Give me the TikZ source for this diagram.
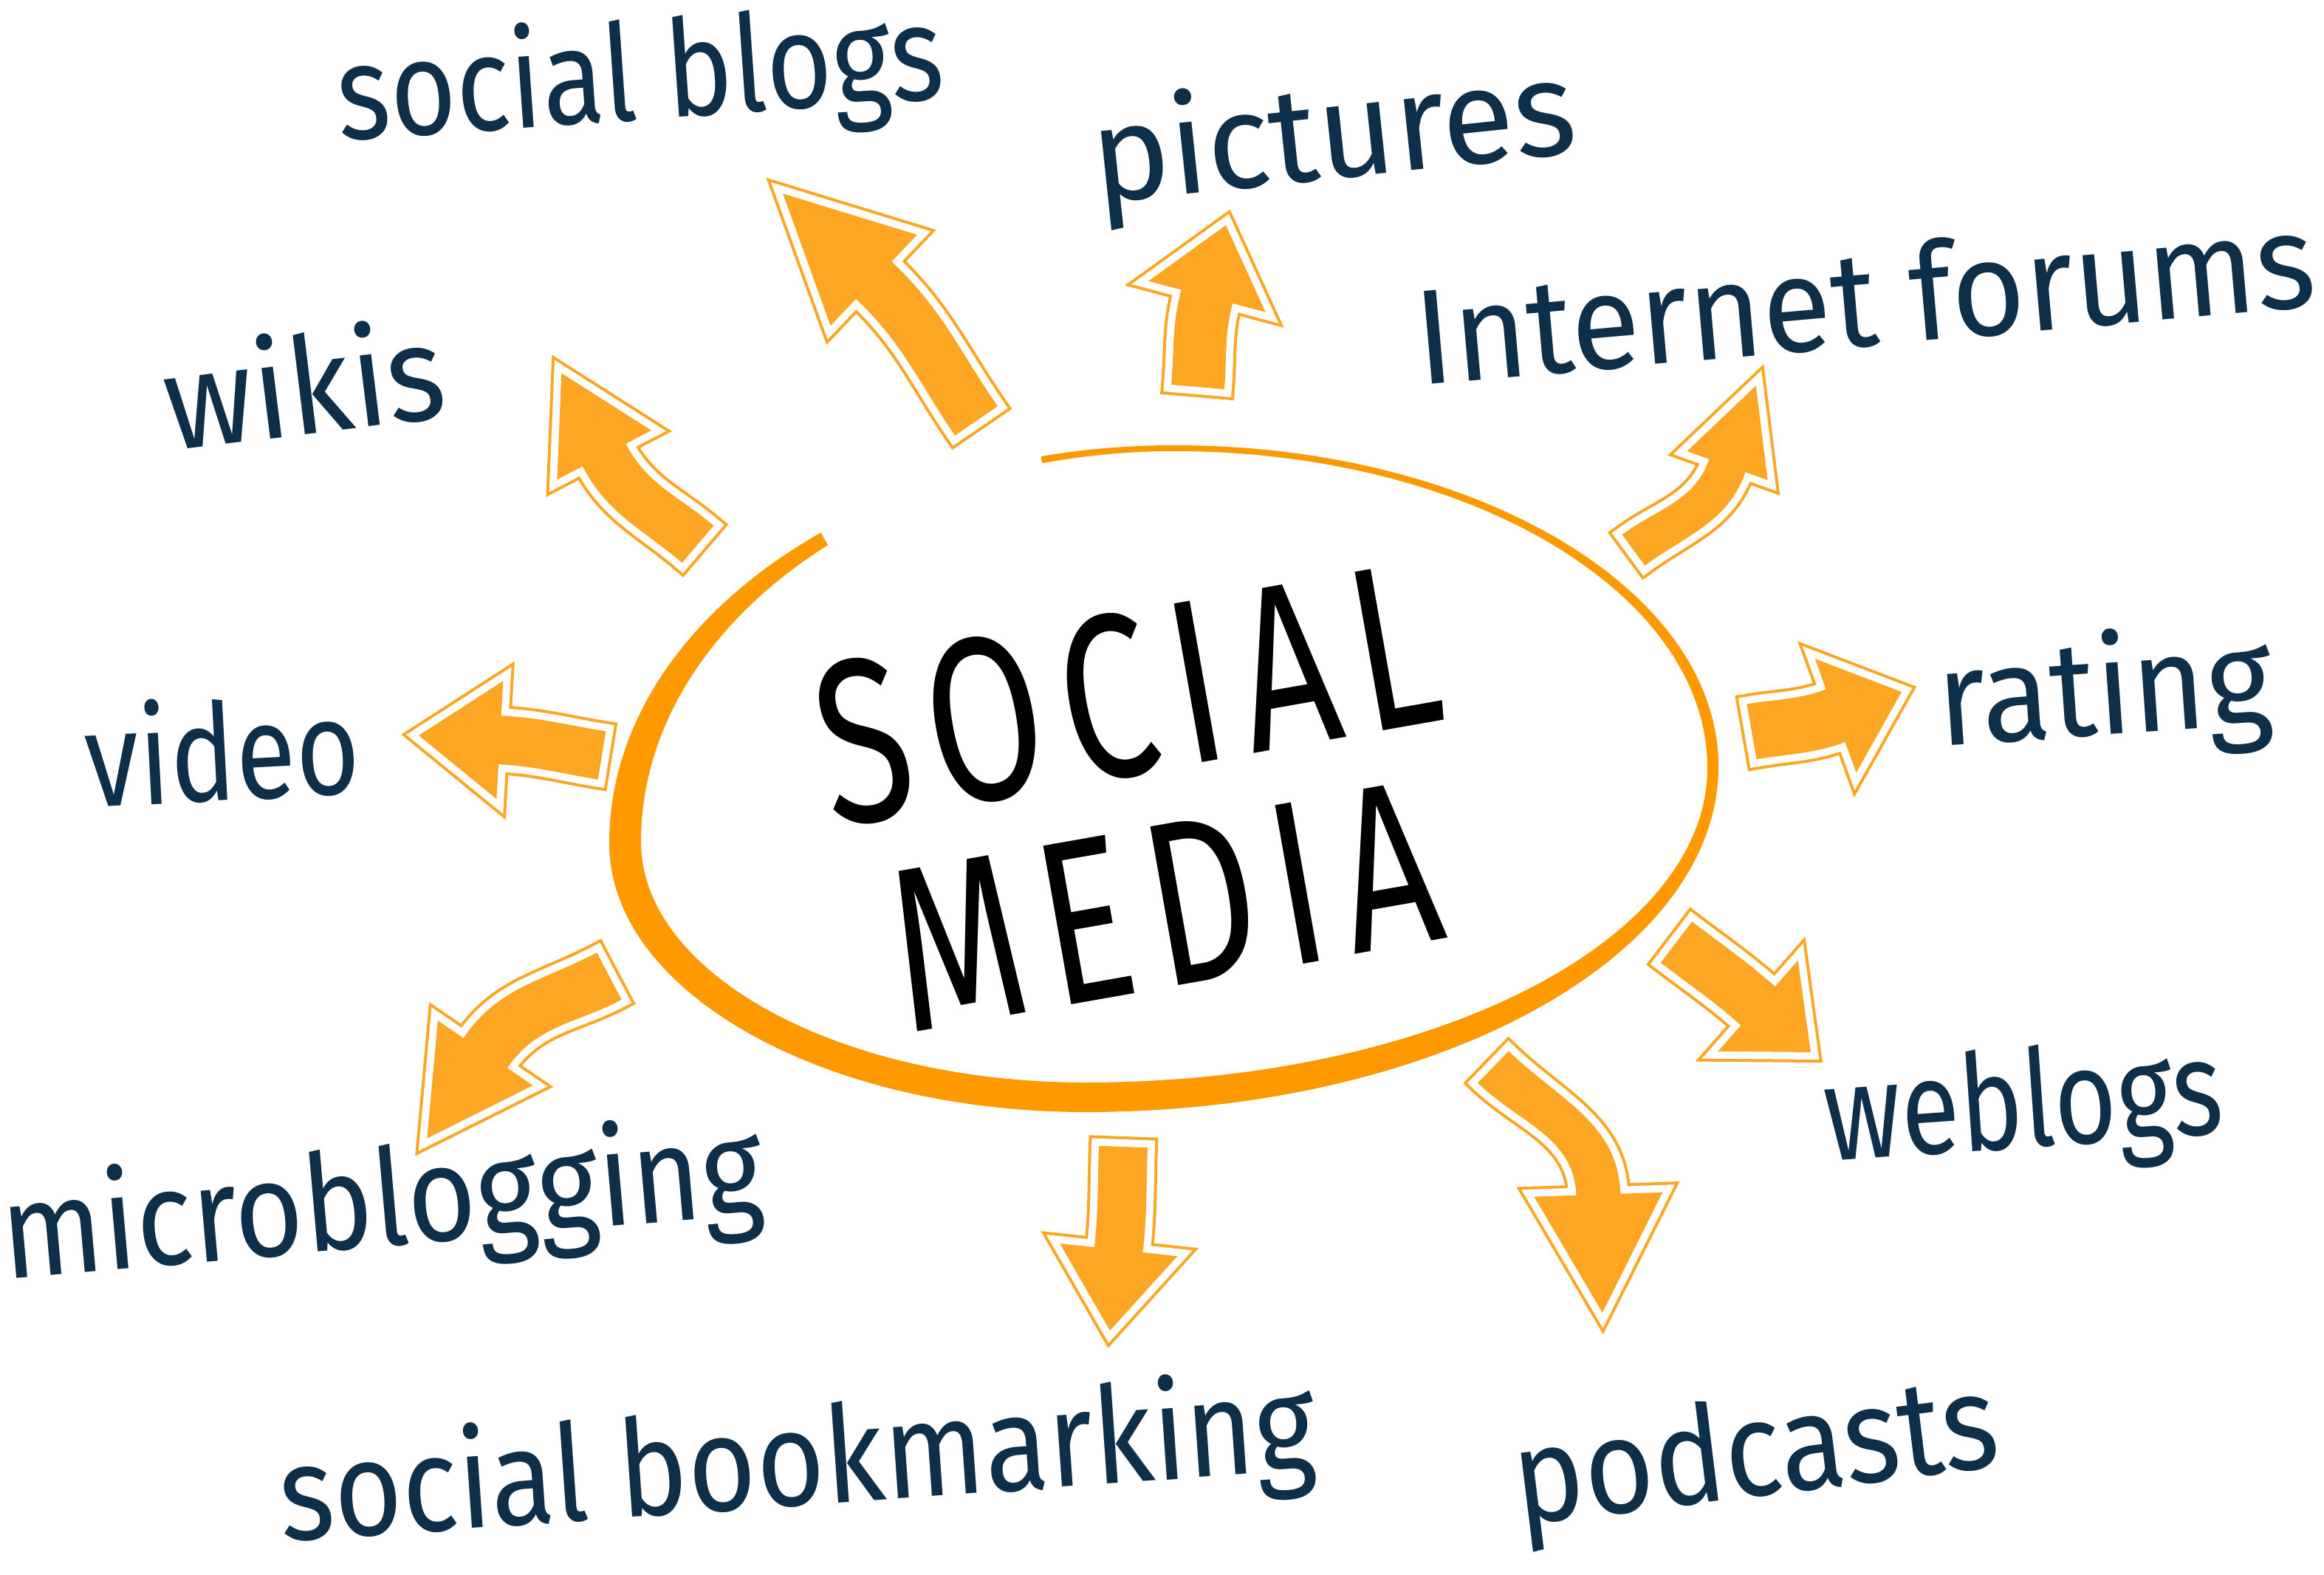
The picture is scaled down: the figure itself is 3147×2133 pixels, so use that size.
\documentclass[tikz,border=0pt]{standalone}
\usepackage{fontspec}
\setmainfont{Fira Sans}
\newfontfamily\titlefont{Fira Sans}[FakeStretch=0.72, LetterSpace=8]
\usetikzlibrary{calc}
\definecolor{ringorange}{HTML}{FF9900}
\definecolor{arroworange}{HTML}{FCA623}
\definecolor{labelblue}{HTML}{0D2F4A}

% outline of one curved block arrow, tail at (0,0), tip at (\arrlen pt,0)
\newcommand\arrowshape[3]{% shaft half width, head half width, head length
    (\tailleft:#1) to[out=\bendout, in=\bendin] ($(\arrlen pt,0pt)+(\bendin:#3)+(\headleft:#1)$)
    -- ($(\arrlen pt,0pt)+(\bendin:#3)+(\headleft:#2)$) -- (\arrlen pt,0pt)
    -- ($(\arrlen pt,0pt)+(\bendin:#3)+(\headright:#2)$) -- ($(\arrlen pt,0pt)+(\bendin:#3)+(\headright:#1)$)
    to[out=\bendin, in=\bendout] (\tailright:#1) -- cycle}

\newcommand\blockarrow[6]{% from, to, bend, shaft, head width, head length
    \pgfmathanglebetweenpoints{\pgfpointanchor{#1}{center}}{\pgfpointanchor{#2}{center}}
    \let\arrang\pgfmathresult
    \pgfpointdiff{\pgfpointanchor{#1}{center}}{\pgfpointanchor{#2}{center}}
    \pgfgetlastxy{\arrdx}{\arrdy}
    \pgfmathveclen{\arrdx}{\arrdy}
    \let\arrlen\pgfmathresult
    \pgfmathsetmacro\bendout{#3}
    \pgfmathsetmacro\bendin{180-(#3)}
    \pgfmathsetmacro\tailleft{90+(#3)}
    \pgfmathsetmacro\tailright{-90+(#3)}
    \pgfmathsetmacro\headleft{90-(#3)}
    \pgfmathsetmacro\headright{-90-(#3)}
    \begin{scope}[shift={(#1)}, rotate=\arrang]
        \path[draw=arroworange, line width=0.28cm] \arrowshape{#4}{#5}{#6};
        \path[draw=white, line width=0.2cm] \arrowshape{#4}{#5}{#6};
        \path[fill=arroworange] \arrowshape{#4}{#5}{#6};
    \end{scope}}

\tikzset{
    topic/.style={font=\fontsize{52}{56}\selectfont, text=labelblue, xscale=0.885, inner sep=0pt},
    title/.style={font=\titlefont\fontsize{90}{83}\selectfont, text=black, inner sep=0pt, align=center}
}

\begin{document}
\begin{tikzpicture}[x=0.01cm, y=0.01cm]
    \useasboundingbox (0,0) rectangle (3147,-2133);
    % brush ring, outer and inner rim
    \fill[ringorange, even odd rule]
        (825,-1142) .. controls (825,-844) and (1168,-603) .. (1590,-603)
        .. controls (1997,-603) and (2327,-798) .. (2327,-1038)
        .. controls (2327,-1297) and (1943,-1506) .. (1470,-1506)
        .. controls (1114,-1506) and (825,-1343) .. (825,-1142) -- cycle
        (868,-1140) .. controls (868,-850) and (1190,-611) .. (1590,-611)
        .. controls (1989,-611) and (2312,-803) .. (2312,-1040)
        .. controls (2312,-1276) and (1935,-1466) .. (1470,-1466)
        .. controls (1138,-1466) and (868,-1320) .. (868,-1140) -- cycle;
    \draw[white, line width=0.45cm] plot[smooth] coordinates {(1112,-722) (1251,-652) (1410,-620)};

    \node[rotate=10, title] (socialmedia) at (1551,-1082) {SOCIAL\\MEDIA};

    \node[rotate=4, topic, xscale=0.95] (blogs) at (867,-110) {social blogs};
    \node[rotate=6, topic, xscale=1.11] (pictures) at (1806,-190) {pictures};
    \node[rotate=5, topic, xscale=1.06] (forums) at (2525,-401) {Internet forums};
    \node[rotate=7, topic, xscale=1.04] (wikis) at (411,-518) {wikis};
    \node[rotate=4, topic, xscale=1.06] (rating) at (2850,-943) {rating};
    \node[rotate=3, topic, xscale=0.92] (video) at (301,-1014) {video};
    \node[rotate=4, topic, xscale=0.9] (weblogs) at (2740,-1505) {weblogs};
    \node[rotate=5, topic, xscale=0.99] (micro) at (518,-1636) {microblogging};
    \node[rotate=4, topic, xscale=0.98] (bookmarking) at (1080,-1987) {social bookmarking};
    \node[rotate=7, topic] (podcasts) at (2378,-1977) {podcasts};

    % arrow ends
    \coordinate (blogs-from) at (1322,-570);
    \coordinate (blogs-to) at (1060,-262);
    \coordinate (pictures-from) at (1622,-524);
    \coordinate (pictures-to) at (1660,-305);
    \coordinate (forums-from) at (2212,-745);
    \coordinate (forums-to) at (2378,-522);
    \coordinate (wikis-from) at (945,-737);
    \coordinate (wikis-to) at (760,-505);
    \coordinate (rating-from) at (2372,-991);
    \coordinate (rating-to) at (2575,-937);
    \coordinate (video-from) at (815,-1023);
    \coordinate (video-to) at (567,-996);
    \coordinate (weblogs-from) at (2270,-1276);
    \coordinate (weblogs-to) at (2452,-1425);
    \coordinate (micro-from) at (825,-1322);
    \coordinate (micro-to) at (578,-1542);
    \coordinate (bookmarking-from) at (1521,-1553);
    \coordinate (bookmarking-to) at (1503,-1802);
    \coordinate (podcasts-from) at (2022,-1445);
    \coordinate (podcasts-to) at (2170,-1778);

    \blockarrow{blogs-from}{blogs-to}{-6}{35}{85}{170}
    \blockarrow{pictures-from}{pictures-to}{5}{36}{82}{100}
    \blockarrow{forums-from}{forums-to}{-17}{26}{58}{115}
    \blockarrow{wikis-from}{wikis-to}{11}{33}{72}{125}
    \blockarrow{rating-from}{rating-to}{-5}{38}{82}{95}
    \blockarrow{video-from}{video-to}{-3}{33}{80}{110}
    \blockarrow{weblogs-from}{weblogs-to}{2}{35}{82}{95}
    \blockarrow{micro-from}{micro-to}{-14}{36}{78}{140}
    \blockarrow{bookmarking-from}{bookmarking-to}{2}{33}{80}{110}
    \blockarrow{podcasts-from}{podcasts-to}{22}{30}{87}{160}
\end{tikzpicture}
\end{document}
